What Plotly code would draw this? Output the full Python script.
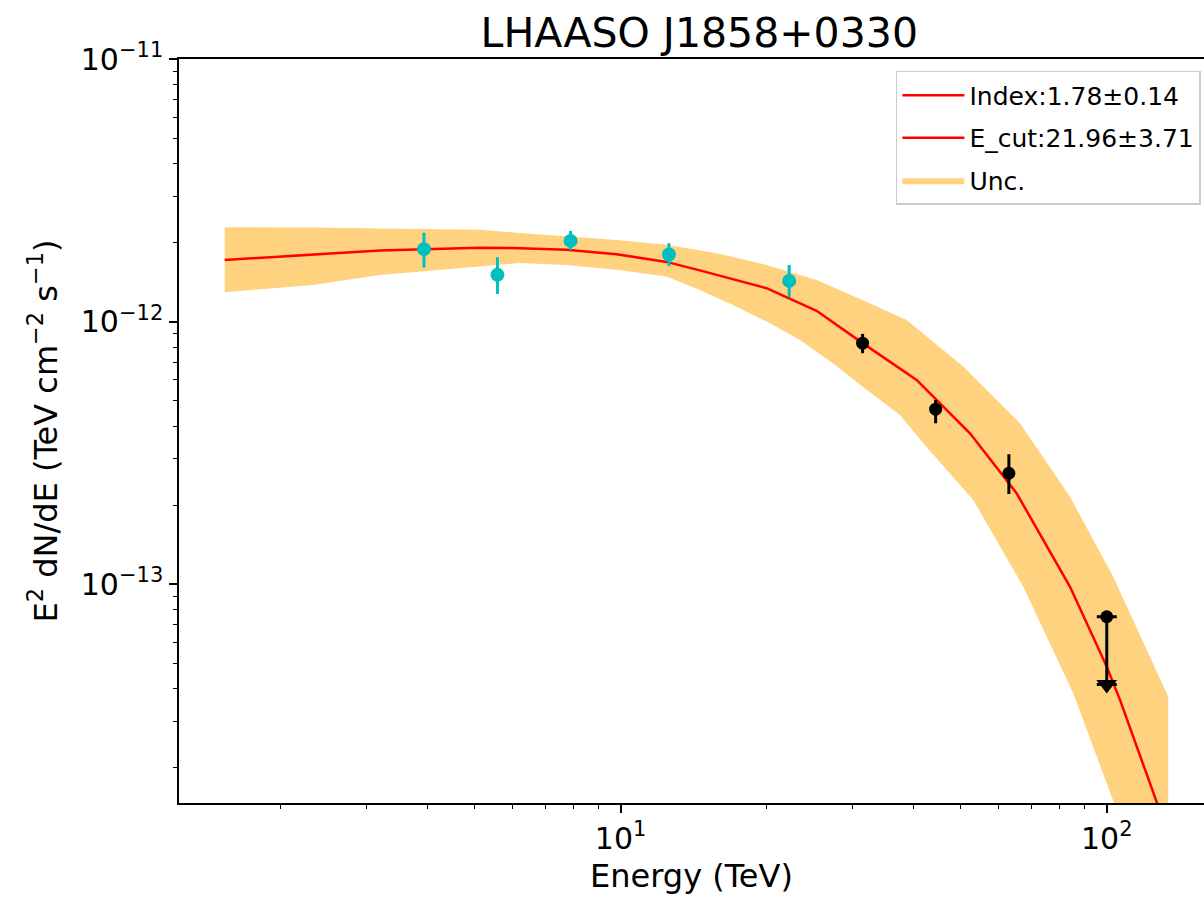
import plotly.graph_objects as go

# ---- data ----
wcda_E = [3.94, 5.58, 7.89, 12.57, 22.22]
wcda_F = [1.888e-12, 1.507e-12, 2.029e-12, 1.80e-12, 1.429e-12]
wcda_hi = [2.18e-12, 1.759e-12, 2.215e-12, 1.989e-12, 1.644e-12]
wcda_lo = [1.607e-12, 1.275e-12, 1.875e-12, 1.630e-12, 1.239e-12]

km2a_E = [31.46, 44.46, 62.9]
km2a_F = [8.28e-13, 4.64e-13, 2.646e-13]
km2a_hi = [8.98e-13, 5.03e-13, 3.126e-13]
km2a_lo = [7.58e-13, 4.10e-13, 2.206e-13]

ul_E = [100.0]
ul_F = [7.52e-14]
ul_arrow = [4.15e-14]

model_E = [1.533, 2.326, 3.196, 3.955, 5.132, 6.203, 7.738, 9.81, 12.43, 14.55,
           19.96, 25.30, 31.46, 40.63, 52.31, 65.24, 84.03, 100.0, 106.5, 126.7, 133.6]
model_F = [1.718e-12, 1.806e-12, 1.864e-12, 1.887e-12, 1.912e-12, 1.904e-12, 1.876e-12,
           1.806e-12, 1.688e-12, 1.567e-12, 1.340e-12, 1.099e-12, 8.28e-13, 5.996e-13,
           3.757e-13, 2.220e-13, 9.78e-14, 4.85e-14, 3.62e-14, 1.48e-14, 1.13e-14]

band_up_E = [1.533, 2.326, 3.513, 5.132, 6.203, 7.738, 9.81, 12.43, 15.75, 19.96,
             25.30, 31.36, 38.75, 50.67, 66.29, 84.03, 103.1, 133.8]
band_up_F = [2.289e-12, 2.281e-12, 2.255e-12, 2.236e-12, 2.177e-12, 2.107e-12, 2.047e-12,
             1.960e-12, 1.822e-12, 1.644e-12, 1.441e-12, 1.210e-12, 1.015e-12, 6.74e-13,
             4.10e-13, 2.154e-13, 1.068e-13, 3.73e-14]
band_lo_E = [1.533, 2.326, 3.196, 5.132, 6.203, 7.738, 9.81, 12.43, 14.55, 17.01,
             20.0, 23.37, 27.33, 32.11, 37.54, 41.93, 53.13, 67.34, 85.35, 100.0, 133.8]
band_lo_F = [1.294e-12, 1.380e-12, 1.506e-12, 1.620e-12, 1.673e-12, 1.644e-12, 1.574e-12,
             1.484e-12, 1.320e-12, 1.158e-12, 1.0e-12, 8.52e-13, 6.94e-13, 5.49e-13,
             4.41e-13, 3.44e-13, 2.093e-13, 9.78e-14, 3.84e-14, 1.744e-14, 4.04e-15]

title = "LHAASO J1858+0330"
leg_index = "Index:1.78±0.14"
leg_ecut = "E_cut:21.96±3.71"
leg_unc = "Unc."

x_major = [10, 100]
x_major_text = ["10<sup>1</sup>", "10<sup>2</sup>"]
y_major = [1e-13, 1e-12, 1e-11]
y_major_text = ["10<sup>−13</sup>", "10<sup>−12</sup>", "10<sup>−11</sup>"]
x_minor = [2, 3, 4, 5, 6, 7, 8, 9, 20, 30, 40, 50, 60, 70, 80, 90]
y_minor = [2e-14, 3e-14, 4e-14, 5e-14, 6e-14, 7e-14, 8e-14, 9e-14,
           2e-13, 3e-13, 4e-13, 5e-13, 6e-13, 7e-13, 8e-13, 9e-13,
           2e-12, 3e-12, 4e-12, 5e-12, 6e-12, 7e-12, 8e-12, 9e-12]

FONT = "DejaVu Sans"
CYAN = "#00BFBF"

fig = go.Figure()

# uncertainty band (closed polygon)
fig.add_trace(go.Scatter(
    x=band_up_E + band_lo_E[::-1],
    y=band_up_F + band_lo_F[::-1],
    fill="toself", mode="lines", line=dict(width=0),
    fillcolor="rgba(255,165,0,0.5)", name=leg_unc, legendrank=3, legendgroup="c",
))

# model line
fig.add_trace(go.Scatter(
    x=model_E, y=model_F, mode="lines",
    line=dict(color="#FF0000", width=2.5), name=leg_index, legendrank=1, legendgroup="a",
))
fig.add_trace(go.Scatter(
    x=[None], y=[None], mode="lines",
    line=dict(color="#FF0000", width=2.5), name=leg_ecut, legendrank=2, legendgroup="b",
))

# WCDA points
fig.add_trace(go.Scatter(
    x=wcda_E, y=wcda_F, mode="markers",
    marker=dict(color=CYAN, size=14),
    error_y=dict(type="data", symmetric=False,
                 array=[h - f for h, f in zip(wcda_hi, wcda_F)],
                 arrayminus=[f - l for f, l in zip(wcda_F, wcda_lo)],
                 color=CYAN, thickness=3, width=0),
    showlegend=False,
))

# KM2A points
fig.add_trace(go.Scatter(
    x=km2a_E, y=km2a_F, mode="markers",
    marker=dict(color="black", size=13),
    error_y=dict(type="data", symmetric=False,
                 array=[h - f for h, f in zip(km2a_hi, km2a_F)],
                 arrayminus=[f - l for f, l in zip(km2a_F, km2a_lo)],
                 color="black", thickness=3, width=0),
    showlegend=False,
))

# upper limit
fig.add_trace(go.Scatter(
    x=ul_E, y=ul_F, mode="markers",
    marker=dict(color="black", size=13),
    error_y=dict(type="data", symmetric=False, array=[0],
                 arrayminus=[f - a for f, a in zip(ul_F, ul_arrow)],
                 color="black", thickness=3, width=10),
    showlegend=False,
))
fig.add_trace(go.Scatter(
    x=ul_E, y=ul_arrow, mode="markers",
    marker=dict(color="black", size=18, symbol="triangle-down"),
    showlegend=False,
))

fig.update_layout(
    width=1204, height=899,
    margin=dict(l=179, r=0, t=59, b=96, pad=0),
    paper_bgcolor="white", plot_bgcolor="white",
    font=dict(family=FONT, color="black"),
    title=dict(text=title, x=0.5808, xanchor="center",
               y=1 - 33 / 899, yanchor="middle",
               font=dict(size=41, family=FONT, color="black")),
    showlegend=True,
    legend=dict(x=0.997, xanchor="right", y=0.984, yanchor="top",
                bgcolor="white", bordercolor="#CCCCCC", borderwidth=1.5,
                font=dict(size=25, family=FONT, color="black"),
                itemwidth=62, tracegroupgap=7, traceorder="grouped"),
)

fig.update_xaxes(
    type="log", range=[0.0916, 2.2],
    showgrid=False, zeroline=False,
    showline=True, linecolor="black", linewidth=1.5, mirror=True,
    tickmode="array", tickvals=x_major, ticktext=x_major_text,
    ticks="outside", ticklen=8, tickwidth=1.5, tickcolor="black",
    tickfont=dict(size=30, family=FONT, color="black"),
    minor=dict(tickmode="array", tickvals=x_minor, ticks="outside",
               ticklen=4.5, tickwidth=1.2, tickcolor="black"),
    title=dict(text="Energy (TeV)", font=dict(size=32, family=FONT, color="black"),
               standoff=10),
)
fig.update_yaxes(
    type="log", range=[-13.8331, -11.0],
    showgrid=False, zeroline=False,
    showline=True, linecolor="black", linewidth=1.5, mirror=False,
    tickmode="array", tickvals=y_major, ticktext=y_major_text,
    ticks="outside", ticklen=8, tickwidth=1.5, tickcolor="black",
    tickfont=dict(size=30, family=FONT, color="black"),
    minor=dict(tickmode="array", tickvals=y_minor, ticks="outside",
               ticklen=4.5, tickwidth=1.2, tickcolor="black"),
    title=dict(text="E<sup>2</sup> dN/dE (TeV cm<sup>−2</sup> s<sup>−1</sup>)",
               font=dict(size=32, family=FONT, color="black"), standoff=14),
)

fig.write_html("out.html")
